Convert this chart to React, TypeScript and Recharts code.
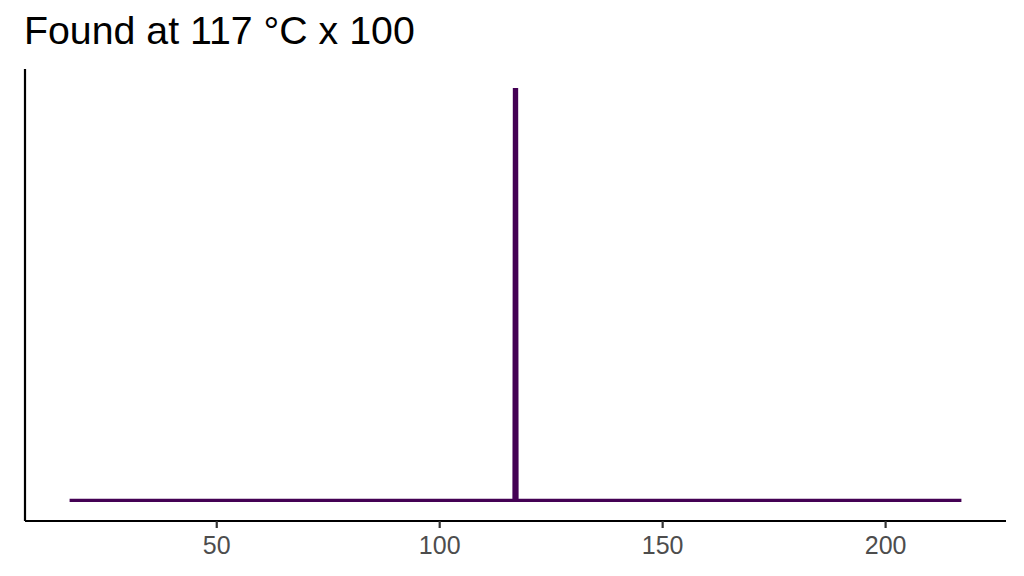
import React from "react";
import { LineChart, Line, XAxis, YAxis } from "recharts";

const temperatures = [17, 116.66, 116.76, 117.24, 117.34, 217];
const intensity = [0, 0, 1, 1, 0, 0];
const xTicks = [50, 100, 150, 200];
const titleText = "Found at 117 °C x 100";

const data = temperatures.map((t, i) => ({ t, v: intensity[i] }));

const FONT = "'Liberation Sans', Arial, Helvetica, sans-serif";

export default function App() {
  return (
    <div style={{ position: "absolute", left: 0, top: 0, width: 1024, height: 576, background: "#fff" }}>
      <LineChart
        width={1024}
        height={576}
        data={data}
        margin={{ top: 69, right: 18, bottom: 0, left: 24 }}
      >
        <XAxis
          dataKey="t"
          type="number"
          domain={[7, 227]}
          ticks={xTicks}
          allowDataOverflow
          height={55}
          axisLine={{ stroke: "#000", strokeWidth: 2.2 }}
          tickLine={{ stroke: "#333", strokeWidth: 2.2 }}
          tickSize={7}
          tickMargin={8}
          tick={{ fill: "#4D4D4D", fontSize: 25, fontFamily: FONT }}
        />
        <YAxis
          type="number"
          domain={[-0.05, 1.05]}
          width={1}
          tick={false}
          tickLine={false}
          axisLine={{ stroke: "#000", strokeWidth: 2.2 }}
          allowDataOverflow
        />
        <Line
          dataKey="v"
          type="linear"
          stroke="#440154"
          strokeWidth={3.2}
          dot={false}
          activeDot={false}
          isAnimationActive={false}
        />
      </LineChart>
      <svg
        width={1024}
        height={60}
        style={{ position: "absolute", left: 0, top: 0, pointerEvents: "none" }}
      >
        <text x={24} y={43.5} fontSize={39.3} fontFamily={FONT} fill="#000">
          {titleText}
        </text>
      </svg>
    </div>
  );
}
